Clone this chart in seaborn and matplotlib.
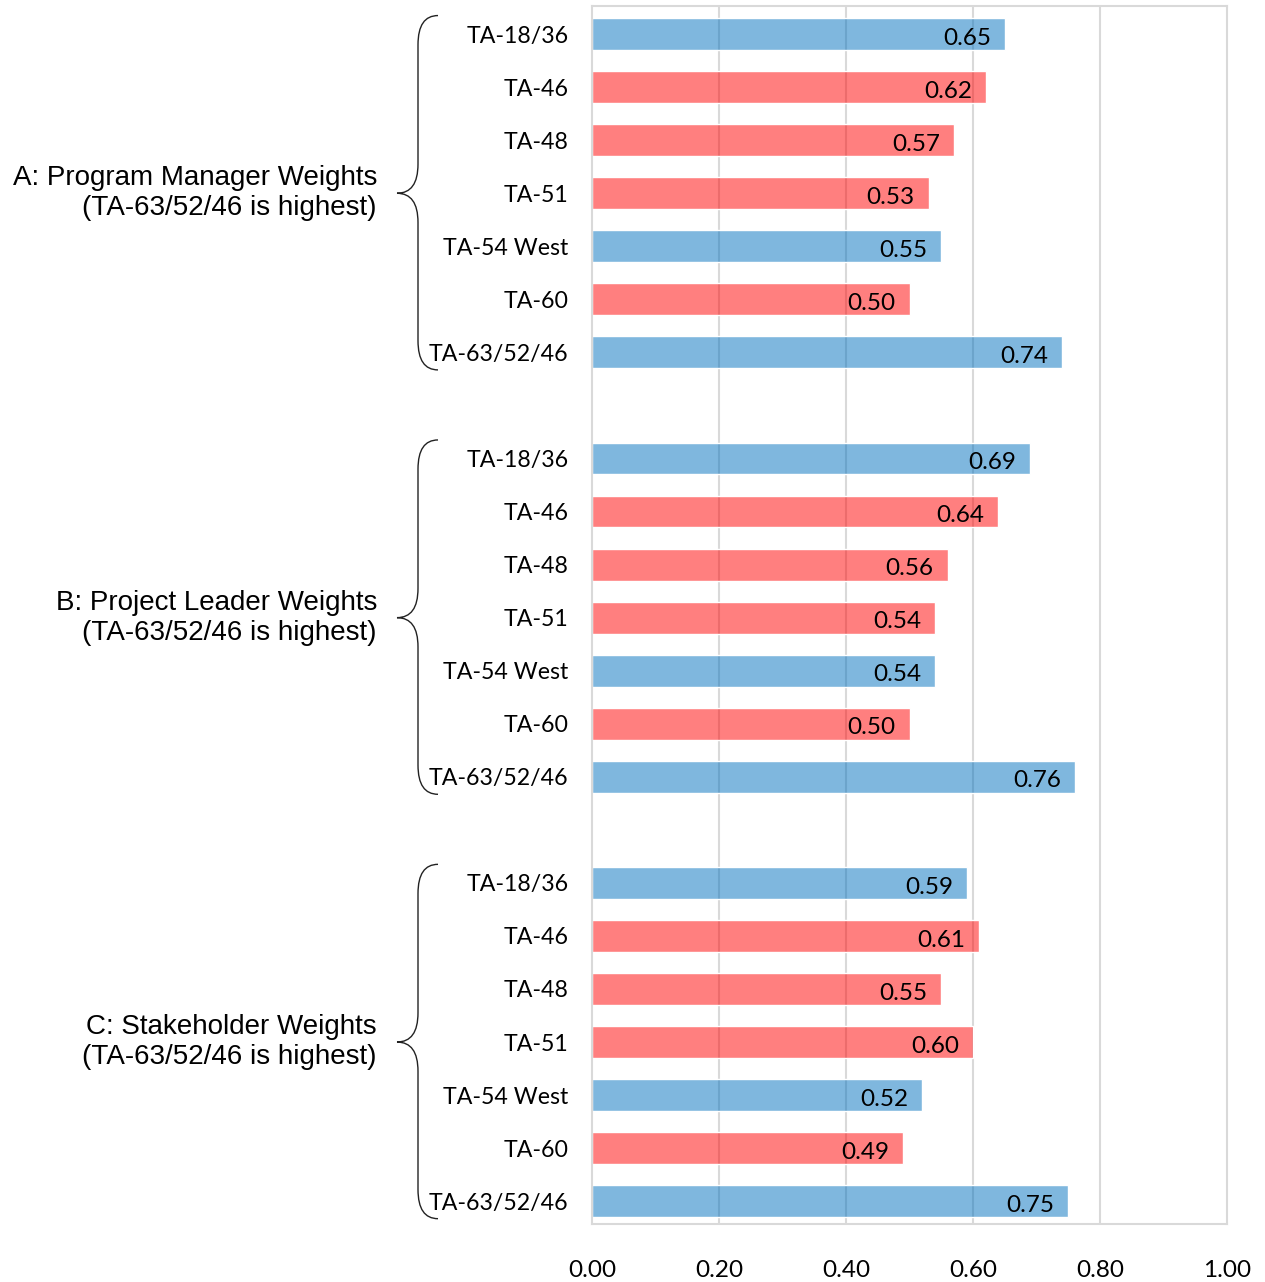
import numpy as np
import pandas as pd
import matplotlib
matplotlib.use('Agg')
import matplotlib.pyplot as plt
from matplotlib.path import Path
from matplotlib.patches import PathPatch
from matplotlib.transforms import blended_transform_factory
import seaborn as sns

# data
sites = ['TA-18/36', 'TA-46', 'TA-48', 'TA-51', 'TA-54 West', 'TA-60', 'TA-63/52/46']
site_kind = ['blue', 'red', 'red', 'red', 'blue', 'red', 'blue']
groups = ['A: Program Manager Weights\n(TA-63/52/46 is highest)',
          'B: Project Leader Weights\n(TA-63/52/46 is highest)',
          'C: Stakeholder Weights\n(TA-63/52/46 is highest)']
weights_a = [0.65, 0.62, 0.57, 0.53, 0.55, 0.50, 0.74]
weights_b = [0.69, 0.64, 0.56, 0.54, 0.54, 0.50, 0.76]
weights_c = [0.59, 0.61, 0.55, 0.60, 0.52, 0.49, 0.75]
x_ticks = [0.0, 0.2, 0.4, 0.6, 0.8, 1.0]

# build a long table, one row id per bar, blank rows between groups
rows = []
order = []
labels = []
for g, vals in enumerate([weights_a, weights_b, weights_c]):
    if g > 0:
        order.append(f'gap{g}')
        labels.append('')
    for site, kind, v in zip(sites, site_kind, vals):
        rid = f'{g}_{site}'
        rows.append({'row': rid, 'value': v, 'kind': kind})
        order.append(rid)
        labels.append(site)
df = pd.DataFrame(rows)

sns.set_style('white')
plt.rcParams['font.family'] = ['Lato', 'DejaVu Sans']
plt.rcParams['text.color'] = 'black'
plt.rcParams['xtick.color'] = 'black'
plt.rcParams['ytick.color'] = 'black'

W, H = 1265, 1282
fig = plt.figure(figsize=(W / 100, H / 100), dpi=100)
ax = fig.add_axes([592 / W, 1 - 1224 / H, 635 / W, 1218 / H])

palette = {'blue': (0.0, 0.44, 0.75, 0.5), 'red': (1.0, 0.0, 0.0, 0.5)}
sns.barplot(data=df, x='value', y='row', hue='kind', order=order, palette=palette,
            orient='h', dodge=False, width=0.6, legend=False, saturation=1, ax=ax,
            zorder=2)

ax.set_xlim(0, 1.0)
ax.set_ylim(len(order) - 0.57, -0.53)
ax.set_xticks(x_ticks)
ax.set_xticklabels([f'{t:.2f}' for t in x_ticks], fontsize=17.5)
ax.set_yticks(range(len(order)))
ax.set_yticklabels(labels, fontsize=16.7)
ax.tick_params(axis='y', length=0, pad=17)
ax.tick_params(axis='x', length=0, pad=26)
ax.set_xlabel('')
ax.set_ylabel('')
ax.grid(False)
for t in x_ticks[1:-1]:
    ax.axvline(t, color='#D9D9D9', lw=1.5, zorder=1)
for sp in ax.spines.values():
    sp.set_visible(True)
    sp.set_color('#D9D9D9')
    sp.set_linewidth(1.5)

# value labels inside the bar ends
for p in ax.patches:
    w = p.get_width()
    if np.isnan(w) or w == 0:
        continue
    yc = p.get_y() + p.get_height() / 2
    ax.annotate(f'{w:.2f}', (w, yc), xytext=(-10, -3), textcoords='offset points',
                ha='right', va='center', fontsize=17.5, color='black', zorder=3)

# group braces and labels
tr = blended_transform_factory(fig.transFigure, ax.transData)
xe, xl, xt = 438 / W, 418 / W, 397 / W
for g, name in enumerate(groups):
    top = g * 8 - 0.35
    bot = g * 8 + 6 + 0.33
    mid = g * 8 + 3
    r = 0.55
    verts = [(xe, top), (xl, top), (xl, top + r),
             (xl, mid - r), (xl, mid), (xt, mid),
             (xl, mid), (xl, mid + r),
             (xl, bot - r), (xl, bot), (xe, bot)]
    codes = [Path.MOVETO, Path.CURVE3, Path.CURVE3,
             Path.LINETO, Path.CURVE3, Path.CURVE3,
             Path.CURVE3, Path.CURVE3,
             Path.LINETO, Path.CURVE3, Path.CURVE3]
    ax.add_patch(PathPatch(Path(verts, codes), transform=tr, fill=False,
                           edgecolor='#222222', lw=1.0, clip_on=False))
    ax.text(377 / W, mid, name, transform=tr, ha='right', va='center',
            multialignment='right', fontsize=20, family=['Liberation Sans'],
            linespacing=1.2)

fig.savefig('out.png', dpi=100)
